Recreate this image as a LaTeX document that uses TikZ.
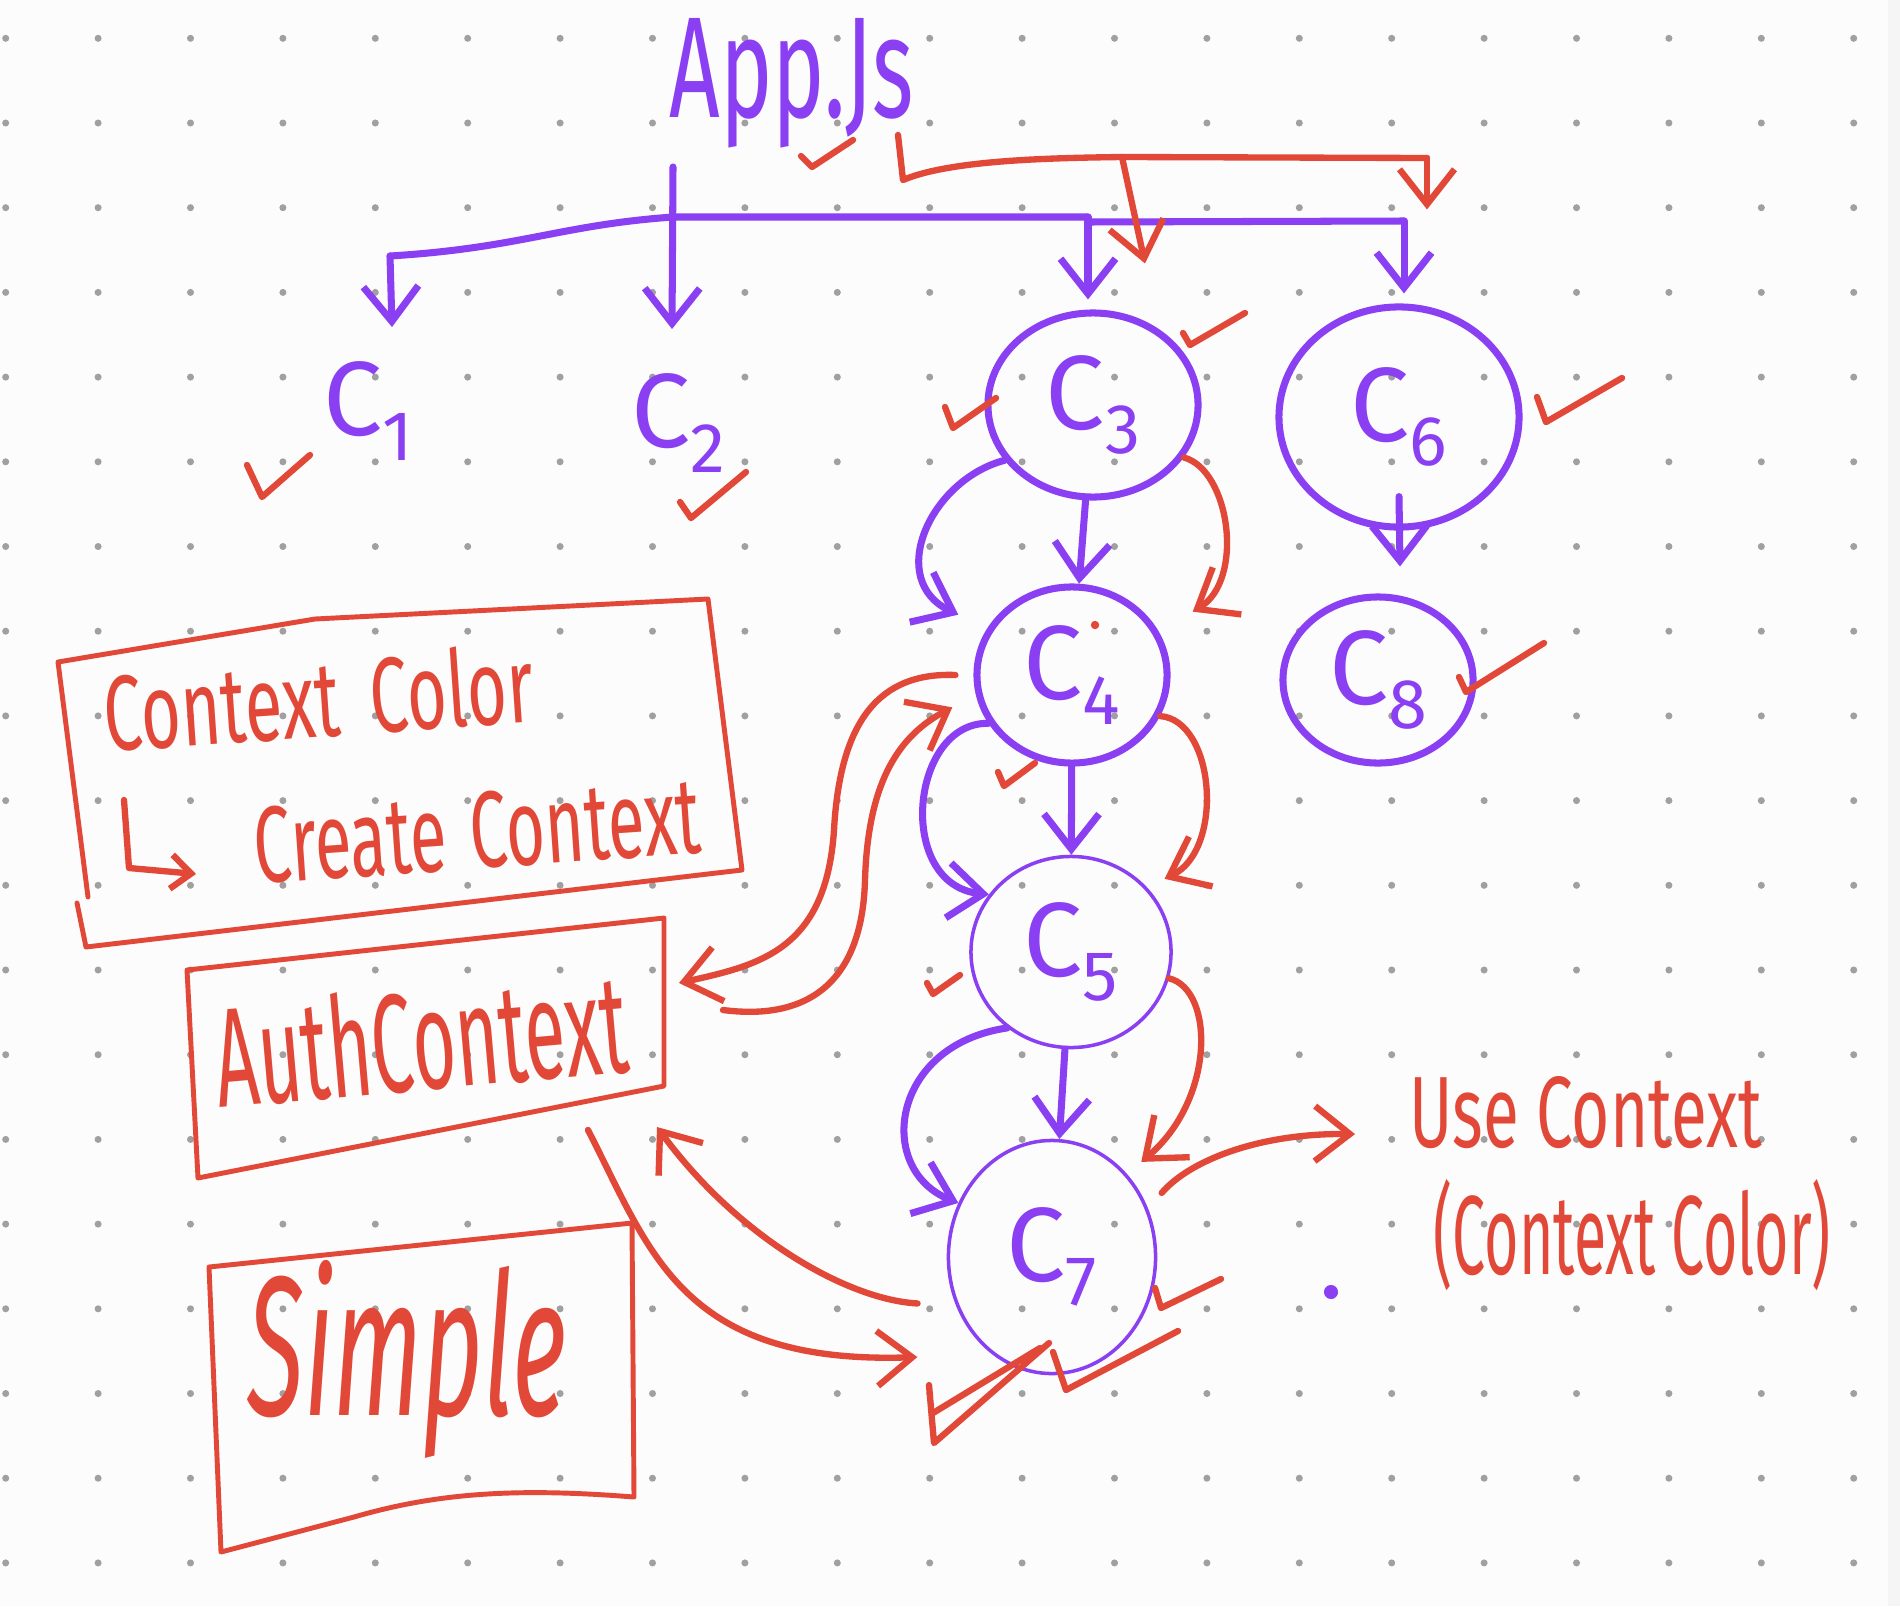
\documentclass[tikz,border=0pt]{standalone}
\usepackage{fontspec}
\setmainfont{Fira Sans}
\usepackage{graphicx}
\usetikzlibrary{arrows.meta, shapes.geometric, calc}
\definecolor{hpurple}{RGB}{138,63,242}
\definecolor{hred}{RGB}{226,72,56}
\definecolor{paper}{RGB}{252,252,252}
\definecolor{dotgray}{RGB}{160,160,160}
\newcommand{\hw}[3]{\resizebox{#1}{#2}{#3}}
\newcommand{\cname}[1]{{\fontsize{30}{30}\selectfont C}\raisebox{-7pt}{\fontsize{20}{20}\selectfont #1}}
\tikzset{
    comp/.style 2 args={ellipse, draw=hpurple, line width=2pt, text=hpurple, inner sep=0pt, minimum width=#1, minimum height=#2},
    thincomp/.style={line width=1pt},
    lbl/.style={inner sep=0pt, text=hpurple},
    note/.style={inner sep=0pt, text=hred},
    pline/.style={draw=hpurple, line width=2pt, line cap=round, line join=round},
    parr/.style={pline, -{Straight Barb[length=3.5mm, width=5.5mm]}},
    rline/.style={draw=hred, line width=1.8pt, line cap=round, line join=round},
    rarr/.style={rline, -{Straight Barb[length=3.5mm, width=5.5mm]}},
    rbox/.style={draw=hred, line width=1.4pt, line join=round, line cap=round},
    tick/.style={draw=hred, line width=1.8pt, line cap=round, line join=round}
}
\begin{document}
\begin{tikzpicture}[x=0.01cm, y=-0.01cm]
    \useasboundingbox (0,0) rectangle (1900,1606);
    \fill[paper] (0,0) rectangle (1900,1606);
    \fill[gray!8] (1888,0) rectangle (1900,1606);
    % dot grid of the page
    \foreach \i in {0,...,20}
        \foreach \j in {0,...,18}
            \fill[dotgray] ({5.7+92.4*\i},{38.3+84.7*\j}) circle[radius=1pt];

    % component tree
    \node[lbl, anchor=base west] (app) at (669,117) {\hw{2.44cm}{0.99cm}{App.Js}};
    \node[lbl] (c1) at (368,411) {\cname{1}};
    \node[lbl] (c2) at (678,423) {\cname{2}};
    \node[comp={2.10cm}{1.84cm}] (c3) at (1093,405) {\cname{3}};
    \node[comp={1.90cm}{1.76cm}] (c4) at (1072,675) {\cname{4}};
    \node[comp={2.00cm}{1.91cm}, thincomp] (c5) at (1071,952) {\cname{5}};
    \node[comp={2.40cm}{2.20cm}] (c6) at (1399,417) {\cname{6}};
    \node[comp={2.07cm}{2.33cm}, thincomp] (c7) at (1052,1257) {\cname{7}};
    \node[comp={1.90cm}{1.66cm}] (c8) at (1378,680) {\cname{8}};

    \coordinate (stem) at (673,167);
    \coordinate (bend1) at (390,256);
    \coordinate (bus3) at (1088,217);
    \coordinate (bus6) at (1404,221);
    \draw[pline] (bend1) .. controls (520,248) and (560,225) .. (stem |- bus3) -- (bus3) -- ++(0,5) -- (bus6);
    \draw[parr] (stem) -- ([shift={(-6,-44)}]c2.north);
    \draw[parr] (bend1) -- ([shift={(24,-34)}]c1.north);
    \draw[parr, shorten >=1mm] (bus3) -- (bus3 |- c3.north);
    \draw[parr, shorten >=1mm] (bus6) -- (bus6 |- c6.north);

    \draw[parr] (c3) -- (c4);
    \draw[parr] (c4) -- (c5);
    \draw[parr] (c5) -- (c7);
    \draw[parr] ([shift={(0,-34)}]c6.south) -- ([shift={(22,-27)}]c8.north);
    \draw[parr] (c3.-148) .. controls (930,480) and (885,580) .. ([shift={(-30,-12)}]c4.150);
    \draw[parr] (c4.-150) .. controls (910,722) and (895,885) .. (c5.145);
    \draw[parr] (c5.-130) .. controls (890,1045) and (875,1170) .. (c7.150);

    % context passed down
    \coordinate (rhook) at (898,135);
    \coordinate (rfork) at (1122,157);
    \coordinate (rturn) at (1427,158);
    \draw[rline] (rhook) -- (903,180) .. controls (950,160) and (1050,158) .. (rfork) -- (rturn);
    \draw[rarr] (rfork) -- ([shift={(52,-46)}]c3.north);
    \draw[rarr] (rturn) -- ([shift={(28,-94)}]c6.north);
    \draw[rarr] (c3.-30) .. controls (1230,470) and (1245,580) .. ([shift={(37,-15)}]c4.30);
    \draw[rarr] (c4.-25) .. controls (1215,720) and (1225,850) .. ([shift={(17,-9)}]c5.40);
    \draw[rarr] (c5.-15) .. controls (1215,990) and (1215,1100) .. ([shift={(17,-9)}]c7.50);

    % context boxes
    \draw[rbox] (77,903) -- (86,947) -- (742,870) -- (708,599) -- (315,619) -- (58,662) -- (88,897);
    \node[note, anchor=base west, rotate=4] (ctxname) at (106,752) {\hw{4.30cm}{0.80cm}{Context\hspace{0.45em}Color}};
    \node[note, anchor=base west, rotate=4] (mkctx) at (256,884) {\hw{4.47cm}{0.76cm}{Create\hspace{0.35em}Context}};
    \coordinate (hooktop) at (124,800);
    \draw[rline, -{Straight Barb[length=2mm, width=3.4mm]}] (hooktop) -- (129,868) -- ([shift={(-60,-10)}]mkctx.base west);

    \draw[rbox] (187,970) -- (664,918) -- (664,1086) -- (198,1178) -- cycle;
    \node[note, anchor=base west, rotate=5] (auth) at (219,1108) {\hw{4.13cm}{1.05cm}{AuthContext}};
    \coordinate (authR1) at (679,983);
    \coordinate (authR2) at (723,1010);
    \coordinate (authB1) at (657,1127);
    \coordinate (authB2) at (588,1130);

    \draw[rbox] (209,1267) -- (632,1223) -- (634,1497) .. controls (520,1488) and (440,1492) .. (354,1517) -- (221,1552) -- cycle;
    \node[note, anchor=base west] (simple) at (247,1415) {\hw{3.19cm}{1.55cm}{\itshape Simple}};

    \node[note, anchor=base west] (use) at (1409,1147) {\hw{3.52cm}{0.71cm}{Use Context}};
    \node[note, anchor=base west] (usearg) at (1433,1274) {\hw{3.97cm}{0.95cm}{(Context Color)}};

    % arrows between the boxes and the tree
    \draw[rarr] ([shift={(-18,0)}]c4.180) .. controls (880,672) and (840,720) .. (834,830)
        .. controls (826,950) and (760,965) .. (authR1);
    \draw[rarr] (authR2) .. controls (800,1020) and (862,990) .. (865,880)
        .. controls (868,780) and (900,735) .. ([shift={(-25,7)}]c4.-165);
    \draw[rarr] ([shift={(-32,19)}]c7.-165) .. controls (850,1300) and (740,1240) .. (authB1);
    \draw[rarr] (authB2) .. controls (650,1250) and (680,1365) .. ([shift={(-41,46)}]c7.-150);
    \draw[rarr] ([shift={(16,-10)}]c7.30) .. controls (1190,1160) and (1260,1133) .. ([shift={(-54,22)}]use.west);

    % ticks
    \draw[tick] (801,156) -- (812,167) -- (853,140);
    \draw[tick] (247,465) -- (262,497) -- (310,455);
    \draw[tick] (680,502) -- (691,518) -- (746,472);
    \draw[tick] (945,407) -- (953,428) -- (996,398);
    \draw[tick] (1183,333) -- (1190,345) -- (1245,313);
    \draw[tick] (1537,397) -- (1546,422) -- (1622,378);
    \draw[tick] (1459,677) -- (1466,692) -- (1544,643);
    \draw[tick] (998,772) -- (1004,786) -- (1035,763);
    \draw[tick] (927,983) -- (933,994) -- (960,975);
    \draw[tick] (1155,1288) -- (1161,1308) -- (1221,1279);
    \draw[tick] (929,1385) -- (934,1443) -- (1049,1343);
    \draw[tick] (933,1413) -- (1040,1348);
    \draw[tick] (1053,1352) -- (1066,1390) -- (1178,1331);

    \fill[hred] (1095,625) circle[radius=1.2pt];
    \fill[hpurple] (1331,1292) circle[radius=2pt];
\end{tikzpicture}
\end{document}
